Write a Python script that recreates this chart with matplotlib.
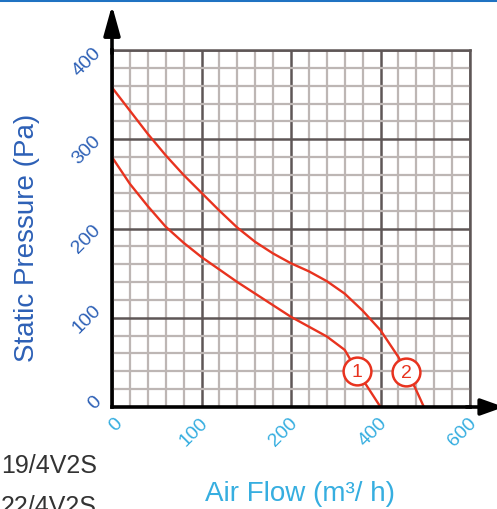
import numpy as np
import matplotlib
matplotlib.use("Agg")
import matplotlib.pyplot as plt
import matplotlib.transforms as mtransforms

# air flow (m3/h) / static pressure (Pa)
flow1 = [0, 20, 40, 60, 80, 100, 120, 140, 160, 180, 200, 240, 280, 320, 348, 369, 400]
press1 = [280, 250, 225, 202, 184, 168, 154, 140, 127, 114, 101, 90, 79, 64, 40, 24, 0]
flow2 = [0, 20, 40, 60, 80, 100, 120, 140, 160, 180, 200, 240, 280, 320, 360, 400, 440, 457, 477, 497]
press2 = [358, 332, 306, 282, 260, 240, 220, 201, 185, 172, 161, 152, 141, 127, 108, 86, 56, 39, 22, 0]
curve_ids = ["1", "2"]
badge1 = (348, 40)
badge2 = (457, 39)

xticks = [0, 100, 200, 400, 600]
yticks = [0, 100, 200, 300, 400]

red = "#e8331f"
blue_y = "#2d60b6"
blue_x = "#36aee0"

plt.rcParams["font.family"] = ["Liberation Sans", "DejaVu Sans"]

fig = plt.figure(figsize=(4.97, 5.10), dpi=100)
ax = fig.add_axes([112/497, 102/510, 358/497, 357/510])

# x axis is not linear: 0,100,200,400,600 are evenly spaced
def fwd(x):
    return np.interp(x, xticks, [0, 1, 2, 3, 4])
def inv(g):
    return np.interp(g, [0, 1, 2, 3, 4], xticks)
ax.set_xscale("function", functions=(fwd, inv))
ax.set_xlim(0, 600)
ax.set_ylim(0, 400)

xminor = list(range(20, 200, 20)) + list(range(240, 600, 40))
xminor = [v for v in xminor if v not in xticks]
ax.set_xticks(xticks)
ax.set_xticks(xminor, minor=True)
ax.set_yticks(yticks)
ax.set_yticks([v for v in range(20, 400, 20) if v % 100], minor=True)

ax.grid(which="major", color="#5e5656", lw=1.8, zorder=1)
ax.grid(which="minor", color="#bdb6b4", lw=1.6, zorder=0.5)
ax.set_axisbelow(True)

for s in ["top", "right"]:
    ax.spines[s].set_color("#5e5656")
    ax.spines[s].set_linewidth(1.8)
for s in ["left", "bottom"]:
    ax.spines[s].set_color("black")
    ax.spines[s].set_linewidth(2.6)
    ax.spines[s].set_zorder(5)

ax.tick_params(which="both", length=0)
ax.tick_params(axis="y", pad=5.5, labelsize=14, labelcolor=blue_y, labelrotation=45)
ax.tick_params(axis="x", pad=5, labelsize=14, labelcolor=blue_x, labelrotation=45)
ax.set_xticklabels([str(v) for v in xticks], ha="right", va="top")
ax.set_yticklabels([str(v) for v in yticks], ha="right", va="center")
xshift = [14, 10, 10, 10, 10]
for lab, dx in zip(ax.get_xticklabels(), xshift):
    lab.set_transform(lab.get_transform() + mtransforms.ScaledTranslation(dx/100, 0, fig.dpi_scale_trans))
# the printed y labels drift a little against their grid lines
ydrop = [-5, 1, 10, 10, 11]
for lab, dy in zip(ax.get_yticklabels(), ydrop):
    lab.set_transform(lab.get_transform() + mtransforms.ScaledTranslation(0, -dy/100, fig.dpi_scale_trans))

# curves
ax.plot(flow1, press1, color=red, lw=1.7, zorder=3, solid_joinstyle="round")
ax.plot(flow2, press2, color=red, lw=1.7, zorder=3, solid_joinstyle="round")
for (bx, by), cid in zip([badge1, badge2], curve_ids):
    ax.plot(bx, by, "o", ms=20, mfc="white", mec=red, mew=1.8, zorder=4)
    ax.text(bx, by, cid, color=red, fontsize=14, ha="center", va="center", zorder=5)

# axis arrows
ax.annotate("", xy=(0, 1.125), xytext=(0, 0.99), xycoords="axes fraction",
            arrowprops=dict(arrowstyle="-|>,head_length=0.9,head_width=0.25",
                            color="black", lw=2.6, mutation_scale=20, shrinkA=0, shrinkB=0))
ax.annotate("", xy=(1.095, 0), xytext=(0.99, 0), xycoords="axes fraction",
            arrowprops=dict(arrowstyle="-|>,head_length=0.7,head_width=0.25",
                            color="black", lw=2.6, mutation_scale=20, shrinkA=0, shrinkB=0))

fig.text(27/497, 1 - 238/510, "Static Pressure (Pa)", rotation=90, color=blue_y,
         fontsize=20, ha="center", va="center")
fig.text(300/497, 1 - 494/510, "Air Flow (m\u00b3/ h)", color=blue_x,
         fontsize=20, ha="center", va="center")

fig.text(97/497, 1 - 466/510, "19/4V2S", color="#333333", fontsize=18, ha="right", va="center")
fig.text(97/497, 1 - 507/510, "22/4V2S", color="#333333", fontsize=18, ha="right", va="center")

# blue rule along the top edge
fig.add_artist(plt.Line2D([0, 1], [1 - 1.2/510, 1 - 1.2/510], color="#1f72c2", lw=2.2,
                          transform=fig.transFigure))

fig.savefig("out.png", dpi=100)
